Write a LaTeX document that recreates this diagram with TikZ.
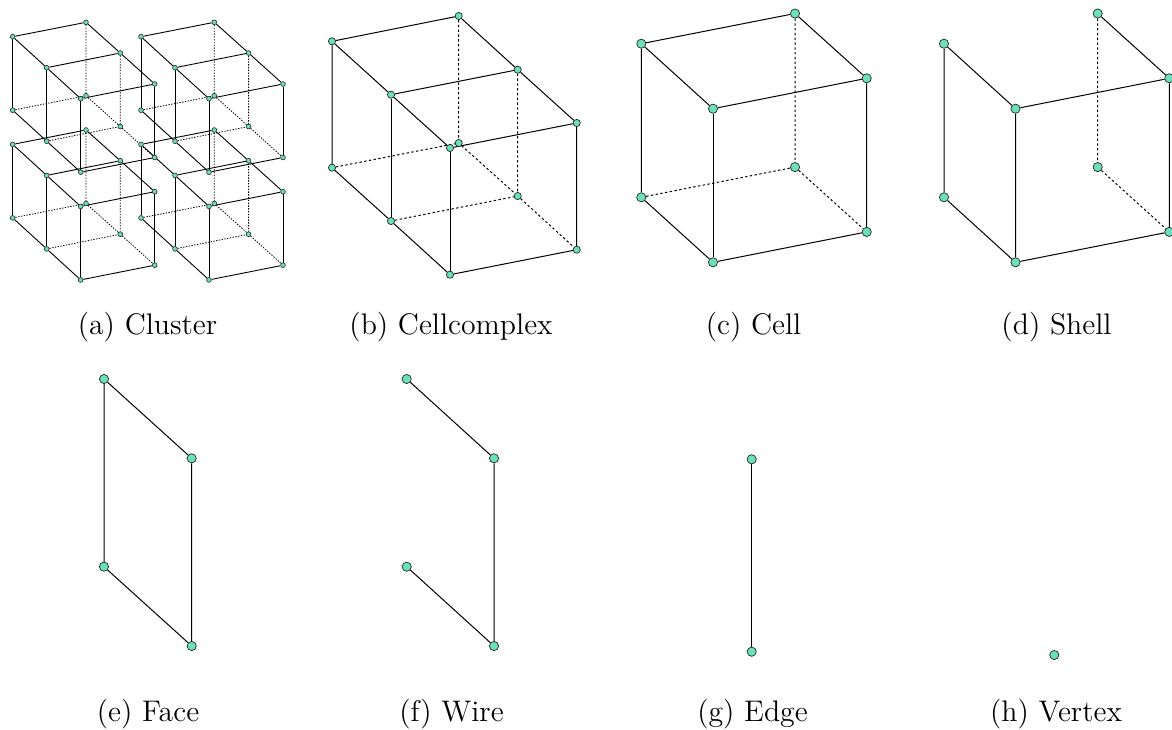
\documentclass[tikz,border=0pt]{standalone}
\usetikzlibrary{backgrounds}
\definecolor{vertexgreen}{HTML}{6BE0BC}
\tikzset{
    vtx/.style={circle, draw=black!85, fill=vertexgreen, line width=0.35pt, inner sep=0pt, minimum size=4.6pt},
    vtxm/.style={vtx, minimum size=3.6pt},
    vtxs/.style={vtx, line width=0.3pt, minimum size=2.4pt},
    edge/.style={line width=0.5pt},
    hidden/.style={edge, dash pattern=on 1.2pt off 1.2pt},
    hiddens/.style={line width=0.4pt, dash pattern=on 0.7pt off 0.7pt},
    capt/.style={anchor=base, font=\fontsize{12}{14}\selectfont, scale=1.24}
}
\begin{document}
\begin{tikzpicture}[x=0.5pt, y=-0.5pt]
    \useasboundingbox (0,0) rectangle (1172,729);

    % Cluster
    \foreach \c/\dx/\dy in {p/0/0, q/128.3/0, r/0/107.7, s/128.3/107.7} {
        \begin{scope}[shift={(\dx,\dy)}]
            \foreach \n/\x/\y in {a/12.7/36.7, b/86/22.3, c/46.7/67.7, d/120.3/53, e/80.7/98.7, f/154.7/84} {
                \node[vtxs] (\c\n1) at (\x,\y) {};
                \pgfmathsetmacro{\yl}{\y+73.5}
                \node[vtxs] (\c\n2) at (\x,\yl) {};
            }
        \end{scope}
        \begin{scope}[on background layer]
            \draw[line width=0.45pt] (\c a1) -- (\c b1) (\c a1) -- (\c c1) -- (\c e1) -- (\c f1) -- (\c d1) -- (\c b1) (\c c1) -- (\c d1);
            \draw[line width=0.45pt] (\c a1) -- (\c a2) (\c c1) -- (\c c2) (\c e1) -- (\c e2) (\c f1) -- (\c f2);
            \draw[line width=0.45pt] (\c a2) -- (\c c2) -- (\c e2) -- (\c f2);
            \draw[hiddens] (\c b1) -- (\c b2) (\c d1) -- (\c d2) (\c a2) -- (\c b2) -- (\c d2) -- (\c f2) (\c c2) -- (\c d2);
        \end{scope}
    }
    \node[capt] (capa) at (147.5,334) {(a) Cluster};

    % Cellcomplex
    \foreach \n/\x/\y/\yl in {a/332/41.3/167.7, b/458.7/16/143, c/391/94.7/221, d/517.7/69.7/196, e/450/148/274.7, f/576.7/123/249.7} {
        \node[vtxm] (x\n1) at (\x,\y) {};
        \node[vtxm] (x\n2) at (\x,\yl) {};
    }
    \begin{scope}[on background layer]
        \draw[edge] (xa1) -- (xb1) -- (xd1) -- (xf1) -- (xe1) -- (xc1) -- (xa1) (xc1) -- (xd1);
        \draw[edge] (xa1) -- (xa2) -- (xc2) -- (xe2) -- (xf2) -- (xf1);
        \draw[edge] (xc1) -- (xc2) (xe1) -- (xe2);
        \draw[hidden] (xb1) -- (xb2) (xd1) -- (xd2) (xa2) -- (xb2) -- (xd2) -- (xf2) (xc2) -- (xd2);
    \end{scope}
    \node[capt] (capb) at (451,334) {(b) Cellcomplex};

    % Cell
    \foreach \n/\x/\y in {a/641.3/43.7, b/795/13.5, c/713/108.7, d/866.7/78.3} {
        \node[vtx] (z\n1) at (\x,\y) {};
        \pgfmathsetmacro{\yl}{\y+153.6}
        \node[vtx] (z\n2) at (\x,\yl) {};
    }
    \begin{scope}[on background layer]
        \draw[edge] (za1) -- (zb1) -- (zd1) -- (zc1) -- (za1) -- (za2) -- (zc2) -- (zd2) -- (zd1);
        \draw[edge] (zc1) -- (zc2);
        \draw[hidden] (zb1) -- (zb2) (za2) -- (zb2) -- (zd2);
    \end{scope}
    \node[capt] (capc) at (753.5,334) {(c) Cell};

    % Shell
    \foreach \n/\x/\y in {a/944/43.7, b/1097.7/13.5, c/1015.5/108.7, d/1169.3/78.3} {
        \node[vtx] (w\n1) at (\x,\y) {};
        \pgfmathsetmacro{\yl}{\y+153.6}
        \node[vtx] (w\n2) at (\x,\yl) {};
    }
    \begin{scope}[on background layer]
        \draw[edge] (wa2) -- (wa1) -- (wc1) -- (wd1) -- (wb1);
        \draw[edge] (wa2) -- (wc2) -- (wd2) -- (wd1) (wc1) -- (wc2);
        \draw[hidden] (wb1) -- (wb2) -- (wd2);
    \end{scope}
    \node[capt] (capd) at (1056.5,334) {(d) Shell};

    % Face
    \node[vtx] (fa) at (104,379) {};
    \node[vtx] (fb) at (191.7,458.3) {};
    \node[vtx] (fc) at (104,566.7) {};
    \node[vtx] (fd) at (191.7,646) {};
    \draw[edge] (fa) -- (fb) -- (fd) -- (fc) -- (fa);
    \node[capt] (cape) at (148,721) {(e) Face};

    % Wire
    \node[vtx] (wra) at (406.7,379) {};
    \node[vtx] (wrb) at (494,458.3) {};
    \node[vtx] (wrc) at (406.7,566.7) {};
    \node[vtx] (wrd) at (494,646) {};
    \draw[edge] (wra) -- (wrb) -- (wrd) -- (wrc);
    \node[capt] (capf) at (451.5,721) {(f) Wire};

    % Edge
    \node[vtx] (ea) at (751.7,459.3) {};
    \node[vtx] (eb) at (751.7,651.7) {};
    \draw[edge] (ea) -- (eb);
    \node[capt] (capg) at (752.5,721) {(g) Edge};

    % Vertex
    \node[vtx] (va) at (1054.3,655) {};
    \node[capt] (caph) at (1056,721) {(h) Vertex};
\end{tikzpicture}
\end{document}
